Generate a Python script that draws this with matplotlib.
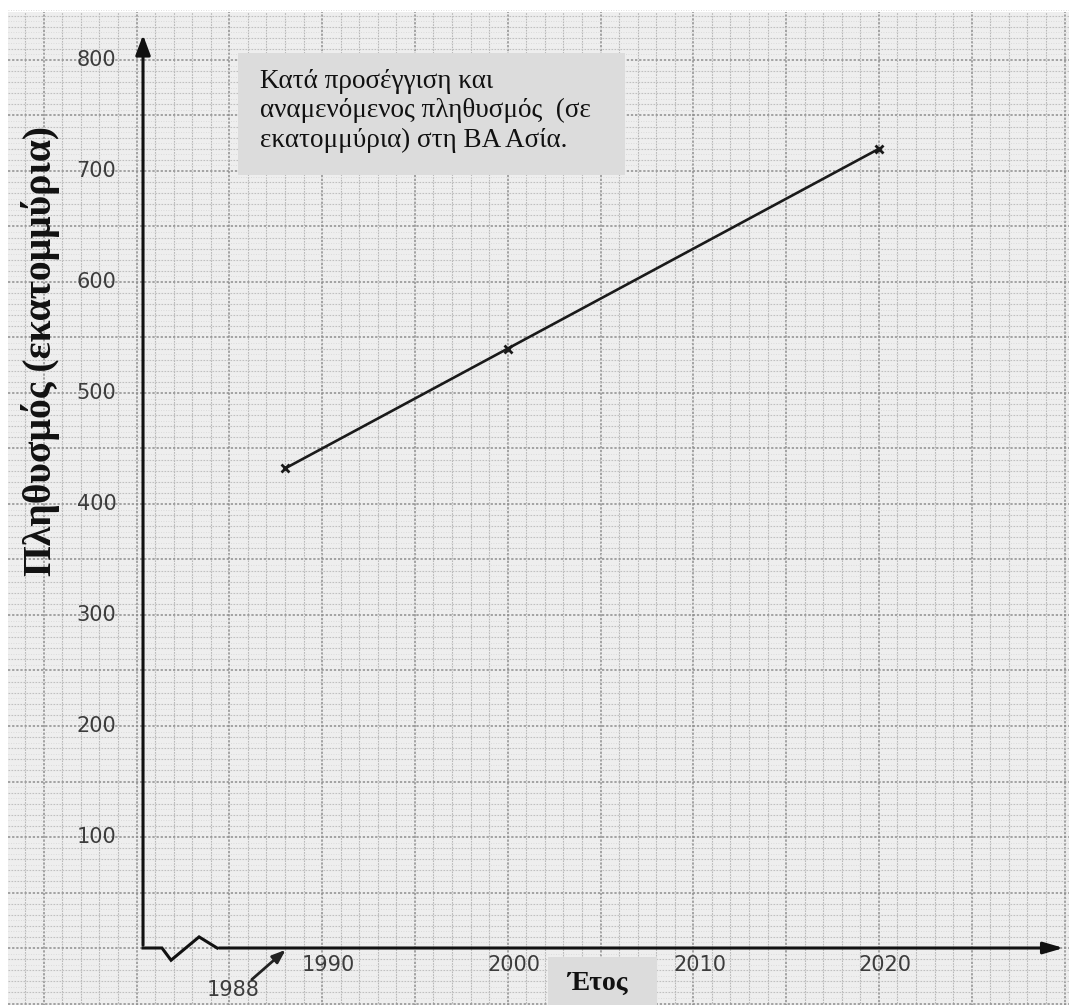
import matplotlib.pyplot as plt
import numpy as np
from matplotlib.patches import Rectangle

# Δεδομένα (πληθυσμός σε εκατομμύρια)
etos = [1988, 2000, 2020]
plithysmos = [432, 540, 720]

y_ticks = [100, 200, 300, 400, 500, 600, 700, 800]
x_ticks = [1990, 2000, 2010, 2020]

# σπασμένος άξονας (zigzag) κοντά στην αρχή
zig_x = [1980.35, 1981.37, 1981.86, 1983.37, 1984.34]
zig_y = [0, 0, -11, 10, 0]

titlos = "Κατά προσέγγιση και\nαναμενόμενος πληθυσμός  (σε\nεκατομμύρια) στη ΒΑ Ασία."

fig = plt.figure(figsize=(10.69, 10.05), dpi=100)
fig.patch.set_facecolor('white')
ax = fig.add_axes([0, 0, 1, 1])
ax.set_xlim(1972.644, 2030.241)
ax.set_ylim(-51.35, 854.05)
ax.axis('off')

# χαρτί μιλιμετρέ
x0, y1 = 1973.07, 843.2
ax.add_patch(Rectangle((x0, -60), 60, y1 + 60, facecolor='#eeeeee', edgecolor='none', zorder=0))
for yr in range(1974, 2031):
    dark = yr % 5 == 0
    ax.plot([yr, yr], [-60, y1], color='#8e8e8e' if dark else '#b8b8b8',
            lw=1.1 if dark else 0.8, ls=(0, (1.5, 1)), zorder=1)
for v in range(-50, 850, 10):
    dark = v % 50 == 0
    ax.plot([x0, 2031], [v, v], color='#8e8e8e' if dark else '#c0c0c0',
            lw=1.1 if dark else 0.8, ls=(0, (1.5, 1.2)), zorder=1)
for v in range(-45, 850, 10):
    ax.plot([x0, 2031], [v, v], color='#d4d4d4', lw=0.6, ls=(0, (1, 2)), zorder=1)

# άξονες
ax.annotate('', xy=(1980.35, 825), xytext=(1980.35, 0),
            arrowprops=dict(arrowstyle='-|>,head_length=1.2,head_width=0.45', color='#111111', lw=2.2), zorder=5)
ax.annotate('', xy=(2030.1, 0), xytext=(1984.3, 0),
            arrowprops=dict(arrowstyle='-|>,head_length=1.2,head_width=0.35', color='#111111', lw=2.2), zorder=5)
ax.plot(zig_x, zig_y, color='#111111', lw=2.2, solid_joinstyle='miter', zorder=5)

# ετικέτες αξόνων
for v in y_ticks:
    ax.text(1977.85, v, str(v), ha='center', va='center', fontsize=15,
            color='#3c3c3c', family='DejaVu Sans', zorder=6)
for yr in x_ticks:
    ax.text(yr + 0.35, -15, str(yr), ha='center', va='center', fontsize=15,
            color='#3c3c3c', family='DejaVu Sans', zorder=6)
ax.text(1985.2, -38, '1988', ha='center', va='center', fontsize=15,
        color='#3c3c3c', family='DejaVu Sans', zorder=6)
ax.annotate('', xy=(1988.15, 0), xytext=(1986.1, -30),
            arrowprops=dict(arrowstyle='-|>,head_length=0.8,head_width=0.3', color='#222222', lw=2), zorder=6)

# καμπύλη δεδομένων
ax.plot(etos, plithysmos, color='#1a1a1a', lw=1.9, marker='x', ms=6, mew=2, zorder=7)

# τίτλος σε γκρι πλαίσιο
ax.add_patch(Rectangle((1985.47, 696), 20.85, 110, facecolor='#dcdcdc', edgecolor='none', zorder=8))
ax.text(1986.65, 792, titlos, ha='left', va='top', fontsize=19.5, linespacing=1.22,
        family='Liberation Serif', color='#111111', zorder=9)

# ετικέτα y
ax.text(1974.8, 538, 'Πληθυσμός (εκατομμύρια)', rotation=90, ha='center', va='center',
        fontsize=28.5, fontweight='bold', family='Liberation Serif', color='#111111', zorder=9)

# ετικέτα x
ax.add_patch(Rectangle((2002.17, -51.35), 5.87, 43, facecolor='#dcdcdc', edgecolor='none', zorder=8))
ax.text(2004.85, -32, 'Έτος', ha='center', va='center', fontsize=20, fontweight='bold',
        family='Liberation Serif', color='#111111', zorder=9)

plt.savefig('out.png', dpi=100, facecolor='white')
